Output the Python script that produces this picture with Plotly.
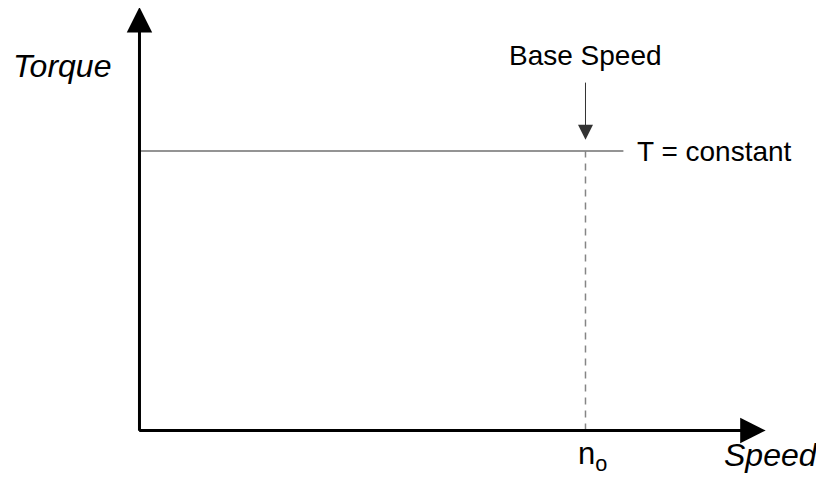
import plotly.graph_objects as go

# =========================
# Data (schematic units: base speed = 1, rated torque = 1)
# =========================

speed_points = [0.0, 1.0, 1.085]
torque_points = [1.0, 1.0, 1.0]

base_speed = 1.0
rated_torque = 1.0

x_axis_end = 1.404
y_axis_end = 1.515

FONT = "Liberation Sans, Arial, sans-serif"

fig = go.Figure()

# constant torque line
fig.add_trace(go.Scatter(
    x=speed_points,
    y=torque_points,
    mode="lines",
    line=dict(color="#707070", width=1.4),
    hoverinfo="skip",
))

# base speed marker (dashed)
fig.add_trace(go.Scatter(
    x=[base_speed, base_speed],
    y=[0, rated_torque],
    mode="lines",
    line=dict(color="#858585", width=1.5, dash="7px,6px"),
    hoverinfo="skip",
))

# =========================
# Axis arrows
# =========================

axis_arrow = dict(
    showarrow=True,
    arrowhead=2,
    arrowwidth=3,
    arrowsize=1.7,
    arrowcolor="black",
    axref="x",
    ayref="y",
    xref="x",
    yref="y",
    text="",
    standoff=0,
)

fig.add_annotation(x=0, y=y_axis_end, ax=0, ay=-0.006, **axis_arrow)
fig.add_annotation(x=x_axis_end, y=0, ax=-0.004, ay=0, **axis_arrow)

# base speed pointer
fig.add_annotation(
    x=base_speed, y=1.04, ax=base_speed, ay=1.25,
    axref="x", ayref="y", xref="x", yref="y",
    showarrow=True, arrowhead=2, arrowwidth=1, arrowsize=3,
    arrowcolor="#333333", text="", standoff=0,
)

# =========================
# Labels
# =========================

fig.add_annotation(
    x=-0.059, y=1.304, xref="x", yref="y", showarrow=False,
    text="<i>Torque</i>", xanchor="right", yanchor="middle",
    font=dict(family=FONT, size=32, color="black"),
)
fig.add_annotation(
    x=1.526, y=-0.088, xref="x", yref="y", showarrow=False,
    text="<i>Speed</i>", xanchor="right", yanchor="middle",
    font=dict(family=FONT, size=32, color="black"),
)
fig.add_annotation(
    x=base_speed, y=1.34, xref="x", yref="y", showarrow=False,
    text="Base Speed", xanchor="center", yanchor="middle",
    font=dict(family=FONT, size=28, color="black"),
)
fig.add_annotation(
    x=1.111, y=rated_torque, xref="x", yref="y", showarrow=False,
    text="T = constant", xanchor="left", yanchor="middle",
    font=dict(family=FONT, size=28, color="black"),
)
fig.add_annotation(
    x=1.016, y=-0.09, xref="x", yref="y", showarrow=False,
    text="n<sub>o</sub>", xanchor="center", yanchor="middle",
    font=dict(family=FONT, size=31, color="black"),
)

# =========================
# Layout
# (ranges offset by the page's 8px body margin)
# =========================

fig.update_layout(
    width=824,
    height=480,
    margin=dict(l=0, r=0, t=0, b=0),
    paper_bgcolor="white",
    plot_bgcolor="white",
    showlegend=False,
    xaxis=dict(range=[-0.2948, 1.5527], visible=False, fixedrange=True),
    yaxis=dict(range=[-0.2057, 1.5116], visible=False, fixedrange=True),
)

fig.write_html("out.html")
